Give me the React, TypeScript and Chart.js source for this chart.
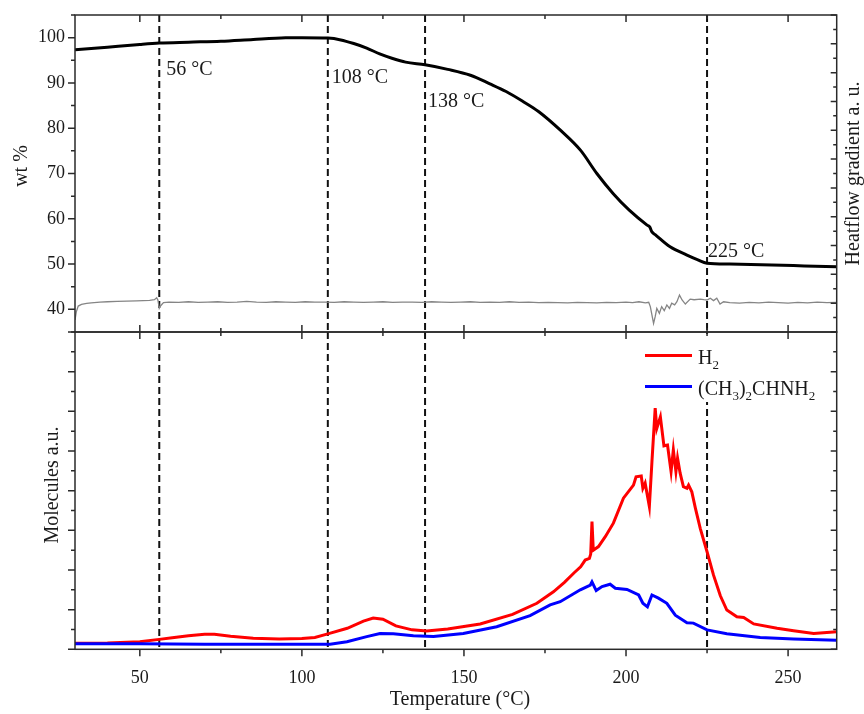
import React, { useEffect, useRef } from 'react';
import Chart from 'chart.js/auto';

const FONT = '"Liberation Serif", "Times New Roman", serif';

// ---- axes / ticks ----
const xMin = 30;
const xMax = 265;
const xMajor = [50, 100, 150, 200, 250];
const xMinor = [75, 125, 175, 225];
const wtMajor = [40, 50, 60, 70, 80, 90, 100];
const wtMinor = [35, 45, 55, 65, 75, 85, 95, 105];
const heatMajor = [0, 1, 2, 3, 4, 5, 6, 7, 8, 9, 10, 11];
const heatMinor = [0.5, 1.5, 2.5, 3.5, 4.5, 5.5, 6.5, 7.5, 8.5, 9.5, 10.5];
const molMajor = [0, 1, 2, 3, 4, 5, 6, 7, 8];
const molMinor = [0.5, 1.5, 2.5, 3.5, 4.5, 5.5, 6.5, 7.5];

// ---- marker lines ----
const markerTemps = [56, 108, 138, 225];
const markerLabels = ['56 °C', '108 °C', '138 °C', '225 °C'];

// ---- TGA (wt %) ----
const wtT = [30, 40, 50, 56, 65, 75, 85, 95, 100, 108, 112, 116, 120, 124, 128, 132, 138, 145, 152, 158, 163, 168, 173, 180, 186, 191, 196, 201, 206.5, 207.3, 208, 209, 213.6, 218.8, 222, 225, 232, 245, 255, 265];
const wtV = [97.3, 97.9, 98.5, 98.8, 99.0, 99.2, 99.6, 99.95, 100.0, 99.9, 99.5, 98.7, 97.7, 96.4, 95.4, 94.6, 94.0, 93.0, 91.7, 89.8, 88.1, 86.0, 83.7, 79.4, 75.1, 70.0, 65.6, 61.9, 58.6, 58.2, 57.1, 56.5, 53.8, 52.0, 51.0, 50.2, 50.0, 49.8, 49.6, 49.4];

// ---- heat-flow gradient (a.u.) ----
const heatT = [30, 30.4, 31, 32, 33.6, 35, 37.7, 40, 43, 46, 49, 51, 53, 54.5, 55.2, 55.6, 56.0, 56.5, 57.3,
  59, 62, 65, 68, 71, 74, 77, 80, 83, 86,
  89, 92, 95, 98, 101, 104, 107, 110, 113, 116,
  119, 122, 125, 128, 131, 134, 137, 140, 143, 146,
  149, 152, 155, 158, 161, 164, 167, 170, 173, 176,
  179, 182, 185, 188, 191, 194, 197, 200, 202, 204,
  206, 207, 207.5, 208.5, 209, 209.5, 210.3, 211, 211.8, 212.6,
  213.4, 214.1, 215, 215.7, 216.5, 217.3, 218.3, 219.8, 221, 222.9,
  224, 225, 226, 227, 228, 229, 230.1, 232, 235, 238,
  241, 244, 247, 250, 253, 256, 259, 262, 265];
const heatV = [0.42, 0.70, 0.90, 0.96, 0.99, 1.01, 1.04, 1.05, 1.06, 1.07, 1.08, 1.09, 1.10, 1.12, 1.19, 1.10, 0.82, 0.92, 1.02,
  1.04, 1.03, 1.05, 1.03, 1.04, 1.05, 1.03, 1.04, 1.06, 1.04,
  1.03, 1.05, 1.04, 1.03, 1.05, 1.04, 1.04, 1.03, 1.05, 1.04,
  1.03, 1.04, 1.05, 1.03, 1.04, 1.04, 1.03, 1.05, 1.04, 1.03,
  1.04, 1.05, 1.03, 1.04, 1.03, 1.05, 1.03, 1.04, 1.02, 1.03,
  1.02, 1.01, 1.03, 1.02, 1.01, 1.03, 1.02, 1.04, 1.02, 1.05,
  1.01, 1.03, 0.88, 0.30, 0.53, 0.82, 0.65, 0.88, 0.74, 0.94,
  0.82, 1.00, 0.94, 1.05, 1.28, 1.11, 0.97, 1.14, 1.12, 1.14,
  1.12, 1.11, 1.17, 1.09, 1.17, 0.97, 1.05, 1.02, 1.00, 1.03,
  1.01, 1.04, 1.02, 1.00, 1.03, 1.01, 1.04, 1.02, 1.03];

// ---- MS: H2 ----
const h2T = [30, 40, 50, 56, 60, 65, 70, 73, 78, 85, 93, 100, 104, 108, 114, 119, 122, 125, 129, 134, 138.5, 145, 155, 165, 172.5, 177.6, 181, 184, 186, 187.4, 188.7, 189.1, 189.5, 189.9, 191.5, 193.6, 196.1, 199.2, 202.3, 203.1, 204.7, 205.2, 205.9, 207.2, 208.0, 209.0, 209.5, 210.6, 211.7, 212.8, 213.9, 214.6, 215.4, 215.9, 216.7, 217.7, 218.8, 219.3, 220.3, 221.4, 222.9, 225, 227, 229.1, 231.1, 234.2, 236.3, 239.4, 246.6, 251.7, 257.9, 265];
const h2V = [0.15, 0.16, 0.19, 0.25, 0.29, 0.34, 0.38, 0.38, 0.33, 0.28, 0.26, 0.27, 0.30, 0.39, 0.53, 0.71, 0.79, 0.76, 0.59, 0.49, 0.46, 0.51, 0.64, 0.88, 1.16, 1.45, 1.69, 1.93, 2.08, 2.25, 2.29, 2.40, 3.22, 2.50, 2.59, 2.84, 3.18, 3.81, 4.14, 4.35, 4.37, 4.06, 4.19, 3.60, 4.73, 6.08, 5.57, 5.86, 5.13, 5.15, 4.48, 5.03, 4.48, 4.82, 4.44, 4.10, 4.06, 4.14, 3.97, 3.56, 3.05, 2.46, 1.87, 1.35, 0.99, 0.82, 0.80, 0.64, 0.53, 0.47, 0.40, 0.44];

// ---- MS: (CH3)2CHNH2 ----
const amT = [30, 50, 70, 93, 108.7, 113.9, 120, 124.1, 128.2, 134.4, 140.6, 149.8, 160.1, 170.4, 176.6, 179.7, 185.9, 189.0, 189.5, 190.8, 192.6, 195.1, 196.7, 200.3, 203.9, 205.2, 206.6, 208.0, 210.0, 212.6, 215.2, 218.8, 220.8, 225.0, 231.1, 241.4, 251.7, 265];
const amV = [0.14, 0.14, 0.13, 0.13, 0.13, 0.19, 0.32, 0.40, 0.39, 0.34, 0.32, 0.40, 0.57, 0.85, 1.12, 1.20, 1.50, 1.62, 1.70, 1.48, 1.58, 1.64, 1.54, 1.51, 1.37, 1.16, 1.07, 1.37, 1.29, 1.16, 0.86, 0.67, 0.66, 0.49, 0.39, 0.30, 0.26, 0.23];

const pts = (xs: number[], ys: number[]) => xs.map((x, i) => ({ x, y: ys[i] }));

// ---- layout (pixels) ----
const W = 864;
const H = 714;
const PLOT_LEFT = 75;
const PLOT_RIGHT = 836.7;
const TOP_TOP = 15;
const MID = 332;
const BOT_BOTTOM = 649.3;
const AXIS_COLOR = '#2a2a2a';
const TEXT_COLOR = '#1a1a1a';
const labelDx = [7, 4, 3, 1];
const labelY = [75, 83, 106.5, 256.5];

function ticksH(ctx: CanvasRenderingContext2D, scale: any, vals: number[], y: number, len: number, dir: number) {
  vals.forEach((v) => {
    const x = scale.getPixelForValue(v);
    ctx.moveTo(x, y);
    ctx.lineTo(x, y + dir * len);
  });
}
function ticksV(ctx: CanvasRenderingContext2D, scale: any, vals: number[], x: number, len: number, dir: number) {
  vals.forEach((v) => {
    const y = scale.getPixelForValue(v);
    ctx.moveTo(x, y);
    ctx.lineTo(x + dir * len, y);
  });
}

function drawRich(ctx: CanvasRenderingContext2D, x: number, y: number, parts: [string, boolean][]) {
  let cx = x;
  parts.forEach(([t, sub]) => {
    ctx.font = sub ? `13px ${FONT}` : `20px ${FONT}`;
    ctx.fillText(t, cx, sub ? y + 5 : y);
    cx += ctx.measureText(t).width;
  });
}

function markerPlugin(id: string) {
  return {
    id,
    beforeDatasetsDraw(chart: any) {
      const { ctx, chartArea: a, scales } = chart;
      ctx.save();
      ctx.setLineDash([7, 4]);
      ctx.lineWidth = 2;
      ctx.strokeStyle = '#111';
      markerTemps.forEach((t) => {
        const px = scales.x.getPixelForValue(t);
        ctx.beginPath();
        ctx.moveTo(px, a.top);
        ctx.lineTo(px, a.bottom);
        ctx.stroke();
      });
      ctx.restore();
    },
  };
}

const topDecor = {
  id: 'topDecor',
  afterDatasetsDraw(chart: any) {
    const { ctx, chartArea: a, scales } = chart;
    ctx.save();
    // annotations
    ctx.fillStyle = TEXT_COLOR;
    ctx.font = `20px ${FONT}`;
    ctx.textBaseline = 'alphabetic';
    ctx.textAlign = 'left';
    markerTemps.forEach((t, i) => {
      ctx.fillText(markerLabels[i], scales.x.getPixelForValue(t) + labelDx[i], labelY[i]);
    });
    // frame
    ctx.strokeStyle = AXIS_COLOR;
    ctx.lineWidth = 1.5;
    ctx.strokeRect(a.left, a.top, a.right - a.left, a.bottom - a.top);
    ctx.beginPath();
    ticksH(ctx, scales.x, xMajor, a.top, 7, 1);
    ticksH(ctx, scales.x, xMinor, a.top, 4, 1);
    ticksH(ctx, scales.x, xMajor, a.bottom, 7, -1);
    ticksH(ctx, scales.x, xMinor, a.bottom, 4, -1);
    ticksV(ctx, scales.y, wtMajor, a.left, 7, -1);
    ticksV(ctx, scales.y, wtMinor, a.left, 4, -1);
    ticksV(ctx, scales.yh, heatMajor, a.right, 6, -1);
    ticksV(ctx, scales.yh, heatMinor, a.right, 3.5, -1);
    ctx.stroke();
    // axis titles
    ctx.fillStyle = TEXT_COLOR;
    ctx.font = `20px ${FONT}`;
    ctx.textAlign = 'center';
    ctx.textBaseline = 'middle';
    ctx.save();
    ctx.translate(22, 166);
    ctx.rotate(-Math.PI / 2);
    ctx.fillText('wt %', 0, 0);
    ctx.restore();
    ctx.save();
    ctx.translate(854, (a.top + a.bottom) / 2);
    ctx.rotate(-Math.PI / 2);
    ctx.fillText('Heatflow gradient a. u.', 0, 0);
    ctx.restore();
    ctx.restore();
  },
};

const botDecor = {
  id: 'botDecor',
  afterDatasetsDraw(chart: any) {
    const { ctx, chartArea: a, scales } = chart;
    ctx.save();
    // legend
    ctx.fillStyle = '#ffffff';
    ctx.fillRect(638, 334, 193, 68);
    ctx.lineWidth = 3;
    ctx.setLineDash([]);
    ctx.strokeStyle = '#ff0000';
    ctx.beginPath();
    ctx.moveTo(645, 355.5);
    ctx.lineTo(692, 355.5);
    ctx.stroke();
    ctx.strokeStyle = '#0000ff';
    ctx.beginPath();
    ctx.moveTo(645, 386.5);
    ctx.lineTo(692, 386.5);
    ctx.stroke();
    ctx.fillStyle = TEXT_COLOR;
    ctx.textAlign = 'left';
    ctx.textBaseline = 'alphabetic';
    drawRich(ctx, 698, 363.5, [['H', false], ['2', true]]);
    drawRich(ctx, 698, 395, [['(CH', false], ['3', true], [')', false], ['2', true], ['CHNH', false], ['2', true]]);
    // frame
    ctx.strokeStyle = AXIS_COLOR;
    ctx.lineWidth = 1.5;
    ctx.strokeRect(a.left, a.top, a.right - a.left, a.bottom - a.top);
    ctx.beginPath();
    ticksH(ctx, scales.x, xMajor, a.top, 7, 1);
    ticksH(ctx, scales.x, xMinor, a.top, 4, 1);
    ticksH(ctx, scales.x, xMajor, a.bottom, 7, 1);
    ticksH(ctx, scales.x, xMinor, a.bottom, 4, 1);
    ticksV(ctx, scales.y, molMajor, a.left, 7, -1);
    ticksV(ctx, scales.y, molMinor, a.left, 4, -1);
    ticksV(ctx, scales.y, molMajor, a.right, 6, -1);
    ticksV(ctx, scales.y, molMinor, a.right, 3.5, -1);
    ctx.stroke();
    // titles
    ctx.fillStyle = TEXT_COLOR;
    ctx.font = `20px ${FONT}`;
    ctx.textAlign = 'center';
    ctx.textBaseline = 'middle';
    ctx.save();
    ctx.translate(53, 485);
    ctx.rotate(-Math.PI / 2);
    ctx.fillText('Molecules a.u.', 0, 0);
    ctx.restore();
    ctx.fillText('Temperature (°C)', 460, 700);
    ctx.restore();
  },
};

const tickFont = { family: FONT, size: 18 };

export default function App() {
  const topRef = useRef<HTMLCanvasElement>(null);
  const botRef = useRef<HTMLCanvasElement>(null);

  useEffect(() => {
    Chart.defaults.font.family = FONT;
    const top = new Chart(topRef.current as HTMLCanvasElement, {
      type: 'line',
      data: {
        datasets: [
          {
            label: 'Heatflow gradient',
            data: pts(heatT, heatV),
            yAxisID: 'yh',
            borderColor: '#858585',
            borderWidth: 1.3,
            pointRadius: 0,
            tension: 0,
          },
          {
            label: 'wt %',
            data: pts(wtT, wtV),
            yAxisID: 'y',
            borderColor: '#000000',
            borderWidth: 3,
            pointRadius: 0,
            cubicInterpolationMode: 'monotone',
          },
        ],
      },
      options: {
        animation: false,
        responsive: false,
        devicePixelRatio: 1,
        events: [],
        layout: { padding: { left: 0, top: TOP_TOP, right: W - PLOT_RIGHT, bottom: H - MID } },
        plugins: { legend: { display: false }, tooltip: { enabled: false } },
        scales: {
          x: { type: 'linear', min: xMin, max: xMax, display: false },
          y: {
            type: 'linear',
            position: 'left',
            min: 35,
            max: 105,
            afterFit: (s: any) => { s.width = PLOT_LEFT; },
            afterBuildTicks: (s: any) => { s.ticks = wtMajor.map((v) => ({ value: v })); },
            grid: { display: true, drawOnChartArea: false, drawTicks: true, tickLength: 10, color: 'rgba(0,0,0,0)' },
            border: { display: false },
            ticks: { font: tickFont, color: TEXT_COLOR, padding: 0 },
          },
          yh: { type: 'linear', position: 'right', min: 0, max: 11, display: false },
        },
      } as any,
      plugins: [markerPlugin('topMarkers'), topDecor],
    });

    const bot = new Chart(botRef.current as HTMLCanvasElement, {
      type: 'line',
      data: {
        datasets: [
          {
            label: '(CH3)2CHNH2',
            data: pts(amT, amV),
            borderColor: '#0000ff',
            borderWidth: 3,
            pointRadius: 0,
            tension: 0,
          },
          {
            label: 'H2',
            data: pts(h2T, h2V),
            borderColor: '#ff0000',
            borderWidth: 3,
            pointRadius: 0,
            tension: 0,
          },
        ],
      },
      options: {
        animation: false,
        responsive: false,
        devicePixelRatio: 1,
        events: [],
        layout: { padding: { left: 0, top: MID, right: W - PLOT_RIGHT, bottom: 0 } },
        plugins: { legend: { display: false }, tooltip: { enabled: false } },
        scales: {
          x: {
            type: 'linear',
            position: 'bottom',
            min: xMin,
            max: xMax,
            afterFit: (s: any) => { s.height = H - BOT_BOTTOM; },
            afterBuildTicks: (s: any) => { s.ticks = xMajor.map((v) => ({ value: v })); },
            grid: { display: false },
            border: { display: false },
            ticks: { font: tickFont, color: TEXT_COLOR, padding: 10, maxRotation: 0, autoSkip: false },
          },
          y: {
            type: 'linear',
            position: 'left',
            min: 0,
            max: 8,
            afterFit: (s: any) => { s.width = PLOT_LEFT; },
            grid: { display: false },
            border: { display: false },
            ticks: { display: false },
          },
        },
      } as any,
      plugins: [markerPlugin('botMarkers'), botDecor],
    });

    return () => {
      top.destroy();
      bot.destroy();
    };
  }, []);

  return (
    <div style={{ position: 'absolute', left: 0, top: 0, width: W, height: H, background: '#ffffff' }}>
      <canvas ref={topRef} width={W} height={H} style={{ position: 'absolute', left: 0, top: 0 }} />
      <canvas ref={botRef} width={W} height={H} style={{ position: 'absolute', left: 0, top: 0 }} />
    </div>
  );
}
